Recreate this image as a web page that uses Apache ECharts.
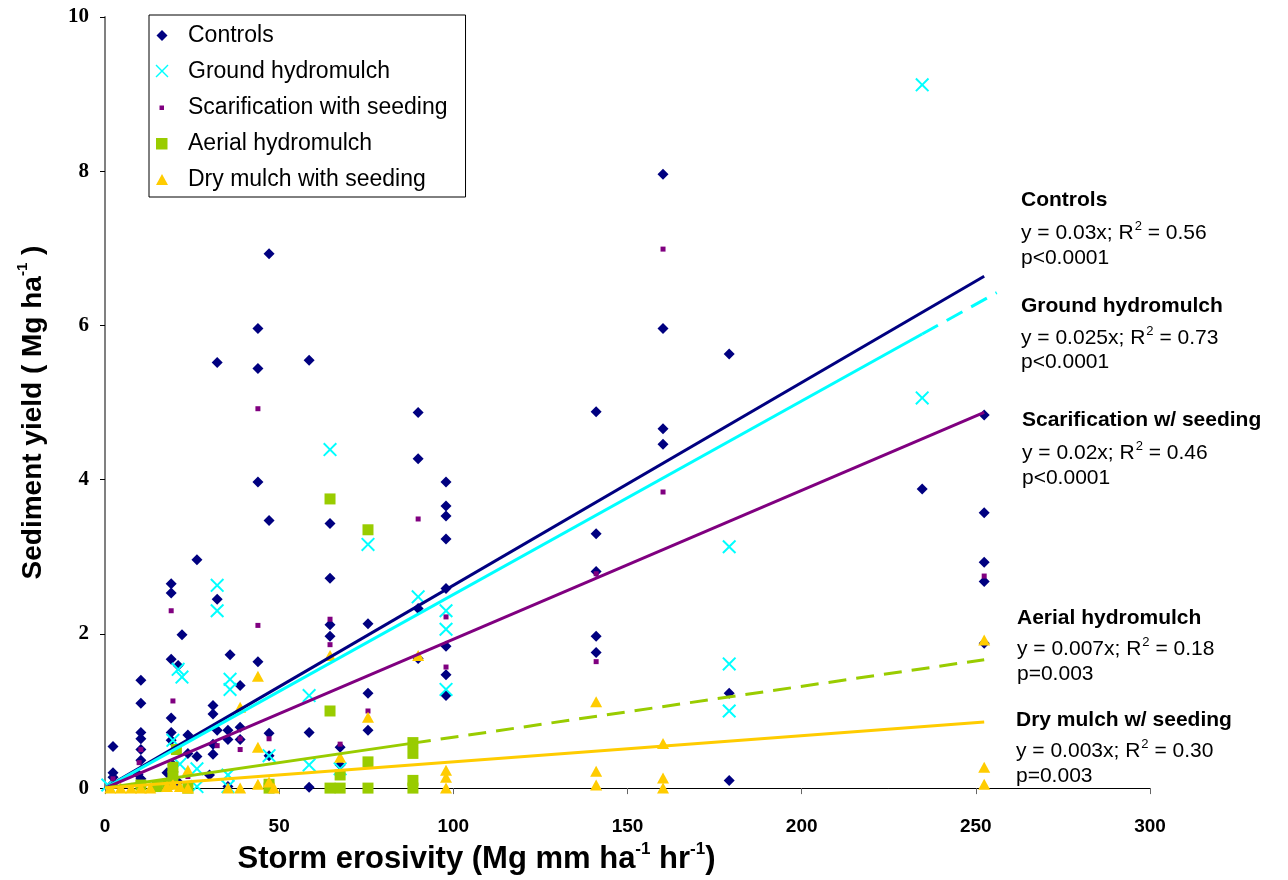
<!DOCTYPE html>
<html>
<head>
<meta charset="utf-8">
<script src="https://cdn.jsdelivr.net/npm/echarts@6/dist/echarts.min.js"></script>
<style>
  html, body { margin: 0; padding: 0; background: #ffffff; }
  #chart { width: 1288px; height: 880px; }
</style>
</head>
<body>
<div id="chart"></div>
<script>
// Storm erosivity (x) vs sediment yield (y) for each treatment
const seriesNames = ['Controls', 'Ground hydromulch', 'Scarification with seeding', 'Aerial hydromulch', 'Dry mulch with seeding'];

const controls = [
  [2.3, 0.54], [2.3, 0.20], [2.3, 0.14], [2.3, 0.06],
  [9.5, 0.18], [10.3, 1.40], [10.3, 1.10], [10.3, 0.72], [10.3, 0.64], [10.3, 0.50], [10.3, 0.36], [10.3, 0.12],
  [17.8, 0.20], [19.0, 2.65], [19.0, 2.53], [19.0, 1.67], [19.0, 0.91], [19.0, 0.72], [19.0, 0.62], [19.5, 0.30],
  [21.0, 1.59], [21.0, 0.08], [22.1, 1.99], [23.8, 0.69], [23.8, 0.45],
  [26.4, 2.96], [26.4, 0.41], [30.0, 0.17],
  [31.0, 1.07], [31.0, 0.96], [31.0, 0.57], [31.0, 0.44],
  [32.2, 5.52], [32.2, 2.45], [32.2, 0.75],
  [35.3, 0.75], [35.3, 0.63], [35.3, 0.02], [35.9, 1.73],
  [38.8, 1.33], [38.8, 0.79], [38.8, 0.63],
  [43.9, 5.96], [43.9, 5.44], [43.9, 3.97], [43.9, 1.64],
  [47.1, 6.93], [47.1, 3.47], [47.1, 0.71], [47.1, 0.42],
  [58.6, 5.55], [58.6, 0.72], [58.6, 0.01],
  [64.6, 3.43], [64.6, 2.72], [64.6, 2.12], [64.6, 1.97],
  [67.5, 0.53], [67.5, 0.30],
  [75.5, 2.13], [75.5, 1.23], [75.5, 0.75],
  [89.9, 4.87], [89.9, 4.27], [89.9, 2.33], [89.9, 1.68],
  [97.9, 3.97], [97.9, 3.66], [97.9, 3.53], [97.9, 3.23], [97.9, 2.59], [97.9, 1.84], [97.9, 1.47], [97.9, 1.20],
  [141.0, 4.88], [141.0, 3.30], [141.0, 2.81], [141.0, 1.97], [141.0, 1.76],
  [160.2, 7.96], [160.2, 5.96], [160.2, 4.66], [160.2, 4.46],
  [179.2, 5.63], [179.2, 1.23], [179.2, 0.10],
  [234.6, 3.88],
  [252.4, 4.84], [252.4, 3.57], [252.4, 2.93], [252.4, 2.68], [252.4, 1.88]
];

const groundHydromulch = [
  [0.8, 0.04], [19.5, 0.62], [21.0, 1.54], [22.1, 1.44], [21.5, 0.31], [26.4, 0.25], [26.4, 0.02],
  [32.2, 2.63], [32.2, 2.30], [35.9, 1.41], [35.9, 1.28], [35.3, 0.17], [35.3, 0.02], [47.1, 0.42],
  [58.6, 1.20], [58.6, 0.30], [64.6, 4.39], [67.5, 0.25], [75.5, 3.16], [89.9, 2.48],
  [97.9, 2.30], [97.9, 2.06], [97.9, 1.28], [179.2, 3.13], [179.2, 1.61], [179.2, 1.00],
  [234.6, 9.12], [234.6, 5.06]
];

const scarification = [
  [2.3, 0.12], [9.8, 0.33], [10.3, 0.50], [19.0, 2.30], [19.5, 1.13], [19.0, 0.30], [23.8, 0.15],
  [32.2, 0.55], [38.8, 0.64], [38.8, 0.50], [43.9, 4.92], [43.9, 2.11], [47.1, 0.64],
  [64.6, 2.19], [64.6, 1.86], [67.5, 0.57], [75.5, 1.00], [89.9, 3.49], [97.9, 2.22], [97.9, 1.57],
  [141.0, 2.78], [141.0, 1.64], [160.2, 6.99], [160.2, 3.84], [252.4, 2.75]
];

const aerialHydromulch = [
  [10.3, 0.04], [15.0, 0.02], [18.0, 0.05], [19.5, 0.27], [19.5, 0.15], [20.5, 0.50], [23.8, 0.00],
  [47.1, 0.05], [47.1, 0.00], [64.6, 3.75], [64.6, 1.00], [64.6, 0.00], [67.5, 0.17], [67.5, 0.00],
  [75.5, 3.35], [75.5, 0.34], [75.5, 0.00], [88.4, 0.59], [88.4, 0.45], [88.4, 0.10], [88.4, 0.00]
];

const dryMulch = [
  [1.5, 0.00], [4.5, 0.00], [7.5, 0.00], [10.3, 0.00], [13.0, 0.00], [17.8, 0.02], [19.5, 0.05], [21.5, 0.02],
  [23.8, 0.23], [23.8, 0.00], [35.3, 0.00], [38.8, 1.05], [38.8, 0.00], [43.9, 1.45], [43.9, 0.53], [43.9, 0.05],
  [47.1, 0.08], [48.5, 0.00], [64.6, 1.72], [67.5, 0.40], [75.5, 0.92], [89.9, 1.72],
  [97.9, 0.23], [97.9, 0.14], [97.9, 0.00], [141.0, 1.12], [141.0, 0.22], [141.0, 0.04],
  [160.2, 0.58], [160.2, 0.13], [160.2, 0.00], [252.4, 1.92], [252.4, 0.27], [252.4, 0.05]
];

// Regressions through the origin: slope, end of solid part, end of dashed extension
const fitSlopes = [0.0263, 0.0251, 0.0193, 0.0066, 0.0034];
const fitSolidEnd = [252.4, 234.6, 252.4, 88.4, 252.4];
const fitDashedEnd = [null, 256.0, null, 252.4, null];

// Regression statistics printed beside the plot
const fitTitles = ['Controls', 'Ground hydromulch', 'Scarification w/ seeding', 'Aerial hydromulch', 'Dry mulch w/ seeding'];
const fitEquations = ['y = 0.03x', 'y = 0.025x', 'y = 0.02x', 'y = 0.007x', 'y = 0.003x'];
const fitR2 = ['0.56', '0.73', '0.46', '0.18', '0.30'];
const fitP = ['p<0.0001', 'p<0.0001', 'p<0.0001', 'p=0.003', 'p=0.003'];

const xRange = [0, 300, 50];
const yRange = [0, 10, 2];

// ---- styling ----
const colors = ['#000080', '#00FFFF', '#800080', '#99CC00', '#FFCC00'];
const crossPath = 'path://M0,1L1,0L5,4L9,0L10,1L6,5L10,9L9,10L5,6L1,10L0,9L4,5Z';
const symbols = ['diamond', crossPath, 'rect', 'rect', 'triangle'];
const symbolSizes = [11, 14, 5, 11, [12, 11]];
// legend icons: a 33x14 box with the marker drawn near its left end
const legendIcons = [
  'path://M0,0M33,14M12,1.5L17.5,7L12,12.5L6.5,7Z',
  'path://M0,0M33,14M5.5,1L6.5,0L12,5.5L17.5,0L18.5,1L13,6.5L18.5,12L17.5,13L12,7.5L6.5,13L5.5,12L11,6.5Z',
  'path://M0,0M33,14M9.5,5L14,5L14,9.5L9.5,9.5Z',
  'path://M0,0M33,14M6,1.5L17.5,1.5L17.5,13L6,13Z',
  'path://M0,0M33,14M12,1.5L18,12.5L6,12.5Z'
];
const sans = "'Liberation Sans', Arial, sans-serif";
const serif = "'Liberation Serif', 'Times New Roman', serif";

const pointSets = [controls, groundHydromulch, scarification, aerialHydromulch, dryMulch];

const scatterSeries = pointSets.map((pts, i) => ({
  name: seriesNames[i],
  type: 'scatter',
  data: pts,
  symbol: symbols[i],
  symbolSize: symbolSizes[i],
  itemStyle: { color: colors[i], opacity: 1 },
  clip: false,
  z: 2 + i * 0.01,
  emphasis: { disabled: true }
}));

const lineSeries = [];
fitSlopes.forEach((k, i) => {
  const e = fitSolidEnd[i];
  lineSeries.push({
    type: 'line',
    data: [[0, 0], [e, k * e]],
    showSymbol: false,
    lineStyle: { color: colors[i], width: 3 },
    z: 3,
    silent: true
  });
  if (fitDashedEnd[i] !== null) {
    const d = fitDashedEnd[i];
    lineSeries.push({
      type: 'line',
      data: [[e, k * e], [d, k * d]],
      showSymbol: false,
      lineStyle: { color: colors[i], width: 3, type: [18, 10] },
      z: 3,
      silent: true
    });
  }
});

// Annotation blocks to the right of the plot
const noteLeft = [1021, 1021, 1022, 1017, 1016];
const titleY = [200, 306, 420, 618, 720];
const eqY = [232, 337, 452, 648, 750];
const pY = [258, 362, 478, 674, 776];
const noteGraphics = [];
fitTitles.forEach((t, i) => {
  const x = noteLeft[i];
  noteGraphics.push({
    type: 'text', x: x, y: titleY[i],
    style: { text: t, font: 'bold 21px ' + sans, fill: '#000', verticalAlign: 'middle' }
  });
  noteGraphics.push({
    type: 'text', x: x, y: eqY[i],
    style: {
      text: '{n|' + fitEquations[i] + '; R}{s|2}{n| = ' + fitR2[i] + '}',
      verticalAlign: 'middle',
      rich: {
        n: { fontSize: 21, fontFamily: sans, fill: '#000', lineHeight: 24, verticalAlign: 'bottom' },
        s: { fontSize: 13, fontFamily: sans, fill: '#000', lineHeight: 24, verticalAlign: 'top', padding: [0, 0, 0, 1] }
      }
    }
  });
  noteGraphics.push({
    type: 'text', x: x, y: pY[i],
    style: { text: fitP[i], font: '21px ' + sans, fill: '#000', verticalAlign: 'middle' }
  });
});

const chart = echarts.init(document.getElementById('chart'), null, { renderer: 'canvas' });
chart.setOption({
  backgroundColor: '#ffffff',
  animation: false,
  grid: { left: 105, right: 138, top: 17, bottom: 89, containLabel: false },
  legend: {
    orient: 'vertical',
    left: 149,
    top: 15,
    padding: [9, 18, 6, 1],
    backgroundColor: '#ffffff',
    borderColor: '#000000',
    borderWidth: 1,
    borderRadius: 0,
    itemWidth: 33,
    itemHeight: 14,
    itemGap: 13,
    textStyle: { fontFamily: sans, fontSize: 23, color: '#000', lineHeight: 23 },
    data: seriesNames.map((n, i) => ({ name: n, icon: legendIcons[i], itemStyle: { color: colors[i] } })),
    selectedMode: false
  },
  xAxis: {
    type: 'value',
    min: xRange[0], max: xRange[1], interval: xRange[2],
    splitLine: { show: false },
    axisLine: { show: true, onZero: false, lineStyle: { color: '#000', width: 1 } },
    axisTick: { show: true, inside: false, length: 6, lineStyle: { color: '#666' } },
    axisLabel: { margin: 29, fontFamily: sans, fontWeight: 'bold', fontSize: 19, color: '#000' },
    name: '{t|Storm erosivity (Mg mm ha}{s|-1}{t| hr}{s|-1}{t|)}',
    nameLocation: 'middle',
    nameGap: 52,
    nameTextStyle: {
      padding: [0, 302, 0, 0],
      rich: {
        t: { fontFamily: sans, fontWeight: 'bold', fontSize: 31, color: '#000', lineHeight: 34, verticalAlign: 'bottom' },
        s: { fontFamily: sans, fontWeight: 'bold', fontSize: 17, color: '#000', lineHeight: 34, verticalAlign: 'top' }
      }
    }
  },
  yAxis: {
    type: 'value',
    min: yRange[0], max: yRange[1], interval: yRange[2],
    splitLine: { show: false },
    axisLine: { show: true, onZero: false, lineStyle: { color: '#808080', width: 2 } },
    axisTick: { show: true, inside: false, length: 5, lineStyle: { color: '#000' } },
    axisLabel: { margin: 16, fontFamily: serif, fontWeight: 'bold', fontSize: 21, color: '#000' },
    name: '{t|Sediment yield ( Mg ha}{s|-1}{t| )}',
    nameLocation: 'middle',
    nameGap: 58,
    nameRotate: 90,
    nameTextStyle: {
      padding: [0, 20, 0, 0],
      rich: {
        t: { fontFamily: sans, fontWeight: 'bold', fontSize: 28, color: '#000', lineHeight: 32, verticalAlign: 'bottom' },
        s: { fontFamily: sans, fontWeight: 'bold', fontSize: 15, color: '#000', lineHeight: 32, verticalAlign: 'top' }
      }
    }
  },
  graphic: noteGraphics,
  series: scatterSeries.concat(lineSeries)
});
</script>
</body>
</html>
